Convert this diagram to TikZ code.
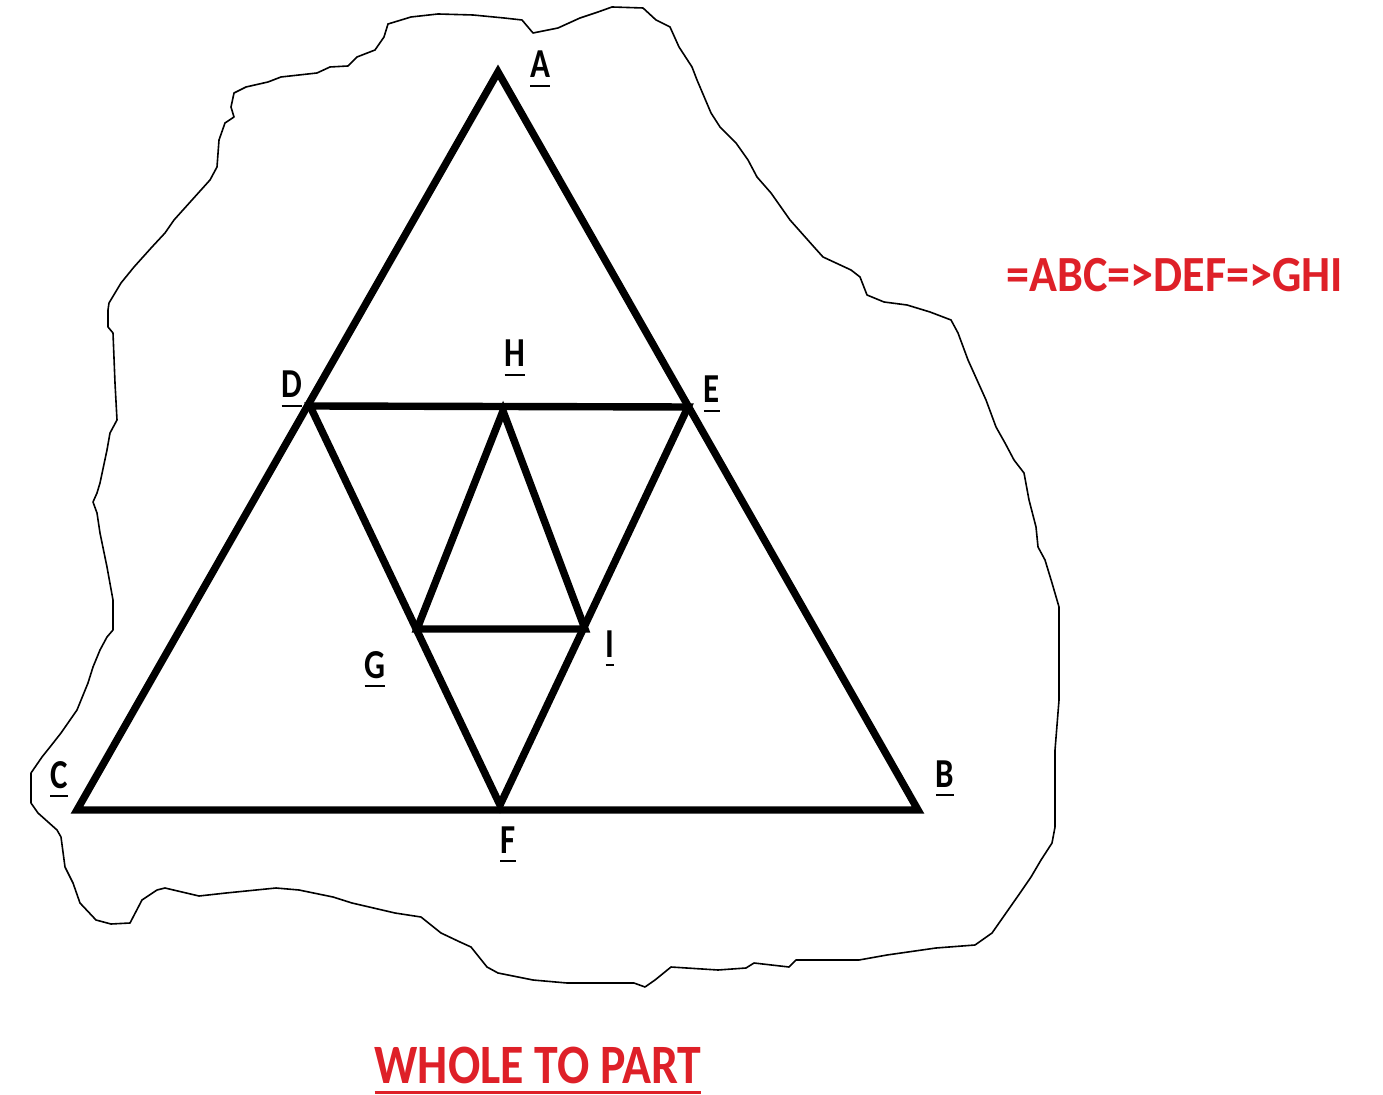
\documentclass[tikz,border=0pt]{standalone}
\usepackage{fontspec}
\setmainfont{Carlito}
\definecolor{redtxt}{RGB}{222,32,40}
\newcommand\ulbox[3]{\leavevmode\vtop{\hbox{#1}\kern#2\hrule height #3}}
\tikzset{
  tri/.style={line width=0.074cm, line join=miter, miter limit=10},
  blobline/.style={line width=0.016cm, line join=round},
  lbl/.style={font=\fontsize{11.7}{14}\selectfont\bfseries, anchor=base, inner sep=0pt, xscale=0.8},
  redlbl/.style={text=redtxt, font=\fontsize{14.4}{17}\selectfont\bfseries, anchor=base, inner sep=0pt, xscale=0.91},
  titlelbl/.style={text=redtxt, font=\fontsize{15.8}{19}\selectfont\bfseries, anchor=base, inner sep=0pt, xscale=0.86}
}
\begin{document}
\begin{tikzpicture}[x=0.01cm, y=-0.01cm]
\useasboundingbox (0,0) rectangle (1383,1095);
% vertices
\coordinate (A) at (498,72);
\coordinate (B) at (918,810);
\coordinate (C) at (77,810);
\coordinate (D) at (310,406);
\coordinate (E) at (688,407);
\coordinate (F) at (500,805);
\coordinate (H) at (503,411);
\coordinate (G) at (417,629);
\coordinate (I) at (585,629);
% blob
\draw[blobline] (234,93) -- (246,87) -- (268,82) -- (281,77) -- (317,73) -- (330,67) -- (348,66) -- (357,57) -- (375,50) -- (384,37) -- (388,24) -- (411,17) -- (438,14) -- (473,15) -- (504,18) -- (522,20) -- (533,33) -- (558,28) -- (580,18) -- (598,12) -- (612,7) -- (643,8) -- (656,20) -- (670,27) -- (679,47) -- (692,67) -- (697,80) -- (711,113) -- (720,127) -- (736,143) -- (748,160) -- (757,177) -- (771,193) -- (790,220) -- (814,247) -- (823,257) -- (851,270) -- (860,277) -- (867,295) -- (884,302) -- (907,305) -- (930,312) -- (951,320) -- (958,333) -- (968,360) -- (977,380) -- (986,400) -- (996,427) -- (1005,443) -- (1014,460) -- (1024,473) -- (1029,500) -- (1036,527) -- (1038,547) -- (1045,560) -- (1052,583) -- (1059,607) -- (1059,700) -- (1055,750) -- (1055,827) -- (1052,843) -- (1041,860) -- (1031,877) -- (1020,893) -- (1006,913) -- (992,933) -- (975,945) -- (936,948) -- (887,955) -- (859,960) -- (796,960) -- (789,967) -- (754,963) -- (746,968) -- (718,970) -- (671,967) -- (655,980) -- (645,987) -- (634,983) -- (601,983) -- (567,983) -- (533,980) -- (498,973) -- (487,967) -- (471,947) -- (460,942) -- (441,933) -- (421,917) -- (395,913) -- (352,903) -- (333,897) -- (299,890) -- (276,888) -- (226,893) -- (199,896) -- (165,888) -- (157,890) -- (142,900) -- (130,923) -- (111,924) -- (96,920) -- (80,903) -- (73,883) -- (65,867) -- (61,837) -- (57,830) -- (38,813) -- (31,803) -- (31,773) -- (42,757) -- (50,747) -- (61,733) -- (77,710) -- (88,683) -- (93,667) -- (100,650) -- (107,637) -- (113,630) -- (113,600) -- (107,567) -- (100,533) -- (97,513) -- (93,502) -- (97,493) -- (100,483) -- (107,450) -- (110,433) -- (117,420) -- (115,383) -- (113,333) -- (108,327) -- (108,310) -- (109,303) -- (121,283) -- (134,267) -- (152,247) -- (165,233) -- (174,220) -- (192,200) -- (201,190) -- (210,180) -- (217,167) -- (219,140) -- (225,123) -- (234,117) -- (231,107) -- cycle;
% triangles
\draw[tri] (A) -- (B) -- (C) -- cycle;
\draw[tri] (D) -- (E) -- (F) -- cycle;
\draw[tri] (H) -- (I) -- (G) -- cycle;
% labels
\node[lbl] (lA) at (540,78) {\ulbox{A}{1.9pt}{0.6pt}};
\node[lbl] (lH) at (515,367) {\ulbox{H}{1.9pt}{0.6pt}};
\node[lbl] (lD) at (292,398) {\ulbox{D}{1.9pt}{0.6pt}};
\node[lbl] (lE) at (712,403) {\ulbox{E}{1.9pt}{0.6pt}};
\node[lbl] (lG) at (375,678) {\ulbox{G}{1.9pt}{0.6pt}};
\node[lbl] (lI) at (610,657) {\ulbox{I}{1.9pt}{0.6pt}};
\node[lbl] (lC) at (59,788) {\ulbox{C}{1.9pt}{0.6pt}};
\node[lbl] (lB) at (945,787) {\ulbox{B}{1.9pt}{0.6pt}};
\node[lbl] (lF) at (508,853) {\ulbox{F}{1.9pt}{0.6pt}};
\node[redlbl] (chain) at (1175,292) {=ABC=>DEF=>GHI};
\node[titlelbl] (title) at (538,1083) {\ulbox{WHOLE TO PART}{2.2pt}{0.8pt}};
\end{tikzpicture}
\end{document}
